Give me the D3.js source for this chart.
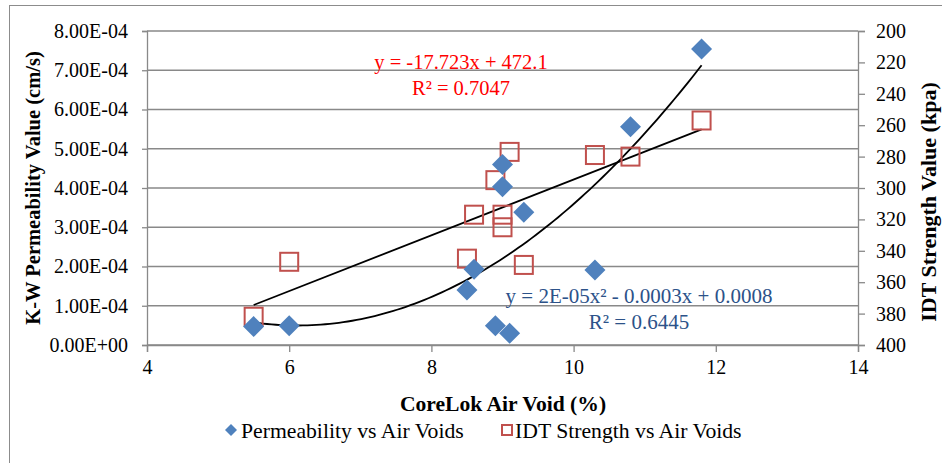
<!DOCTYPE html>
<html>
<head>
<meta charset="utf-8">
<script src="https://cdn.jsdelivr.net/npm/d3@7/dist/d3.min.js"></script>
<style>
  html, body { margin: 0; padding: 0; background: #fff; }
  svg { display: block; }
  svg text { font-family: "Liberation Serif", "Times New Roman", serif; }
</style>
</head>
<body>
<svg id="chart" width="942" height="463"></svg>
<script>
// ---- Data ----
const permAirVoid = [5.5, 6.0, 8.5, 8.6, 8.9, 9.1, 9.0, 9.0, 9.3, 10.3, 10.8, 11.8];
const permValue   = [4.7e-5, 4.9e-5, 1.40e-4, 1.93e-4, 4.9e-5, 3.0e-5, 4.60e-4, 4.03e-4, 3.38e-4, 1.91e-4, 5.56e-4, 7.54e-4];

const idtAirVoid  = [5.5, 6.0, 8.5, 8.6, 8.9, 9.0, 9.0, 9.1, 9.3, 10.3, 10.8, 11.8];
const idtValue    = [382, 347, 345, 317, 295, 317, 325, 277, 349, 279, 280, 257];

const xTicks      = [4, 6, 8, 10, 12, 14];
const yLeftTicks  = [0, 1e-4, 2e-4, 3e-4, 4e-4, 5e-4, 6e-4, 7e-4, 8e-4];
const yRightTicks = [200, 220, 240, 260, 280, 300, 320, 340, 360, 380, 400];

const seriesNames = ["Permeability vs Air Voids", "IDT Strength vs Air Voids"];
const idtEquation  = ["y = -17.723x + 472.1", "R\u00B2 = 0.7047"];
const permEquation = ["y = 2E-05x\u00B2 - 0.0003x + 0.0008", "R\u00B2 = 0.6445"];

// ---- Layout ----
const FONT = "'Liberation Serif', 'Times New Roman', serif";
const svg = d3.select("#chart").attr("font-family", FONT);
const L = 147, R = 858, T = 31, B = 345;
const x  = d3.scaleLinear().domain([4, 14]).range([L, R]);
const yL = d3.scaleLinear().domain([0, 8e-4]).range([B, T]);
const yR = d3.scaleLinear().domain([200, 400]).range([T, B]);

const gridColor = "#898989";
const blue = "#4F81BD", red = "#C0504D";

// outer chart border
svg.append("rect").attr("x", 9.5).attr("y", 5.5).attr("width", 960).attr("height", 480)
  .attr("fill", "none").attr("stroke", "#8c8c8c").attr("stroke-width", 1);

// horizontal gridlines
svg.append("g").selectAll("line").data(yLeftTicks).join("line")
  .attr("x1", L).attr("x2", R)
  .attr("y1", d => yL(d)).attr("y2", d => yL(d))
  .attr("stroke", gridColor).attr("stroke-width", 1.3);

// exponent format like Excel: 8.00E-04
function sci(v) {
  if (v === 0) return "0.00E+00";
  const e = Math.floor(Math.log10(Math.abs(v)) + 1e-9);
  const m = v / Math.pow(10, e);
  const sign = e < 0 ? "-" : "+";
  return m.toFixed(2) + "E" + sign + String(Math.abs(e)).padStart(2, "0");
}

// left axis
const gL = svg.append("g").attr("transform", `translate(${L},0)`)
  .call(d3.axisLeft(yL).tickValues(yLeftTicks).tickFormat(sci).tickSize(5).tickPadding(14));
// right axis
const gR = svg.append("g").attr("transform", `translate(${R},0)`)
  .call(d3.axisRight(yR).tickValues(yRightTicks).tickSize(7).tickPadding(11));
// bottom axis
const gB = svg.append("g").attr("transform", `translate(0,${B})`)
  .call(d3.axisBottom(x).tickValues(xTicks).tickFormat(d3.format("d")).tickSize(7).tickPadding(6));

[gL, gR, gB].forEach(g => {
  g.attr("font-family", FONT);
  g.select(".domain").attr("stroke", gridColor).attr("stroke-width", 1.3);
  g.selectAll(".tick line").attr("stroke", gridColor).attr("stroke-width", 1.3);
  g.selectAll(".tick text").attr("font-family", FONT).attr("font-size", 20).attr("fill", "#000");
});
gB.selectAll(".tick text").attr("dy", "0.78em");

// axis titles
svg.append("text").attr("x", 503).attr("y", 411).attr("text-anchor", "middle")
  .attr("font-size", 21.6).attr("font-weight", "bold").text("CoreLok Air Void (%)");
svg.append("text").attr("transform", "translate(40,188) rotate(-90)").attr("text-anchor", "middle")
  .attr("font-size", 20.5).attr("font-weight", "bold").text("K-W Permeability Value (cm/s)");
svg.append("text").attr("transform", "translate(936,202) rotate(-90)").attr("text-anchor", "middle")
  .attr("font-size", 22).attr("font-weight", "bold").text("IDT Strength Value (kpa)");

// ---- Trendlines (least squares from the data) ----
function linFit(xs, ys) {
  const n = xs.length, mx = d3.mean(xs), my = d3.mean(ys);
  let sxy = 0, sxx = 0;
  for (let i = 0; i < n; i++) { sxy += (xs[i]-mx)*(ys[i]-my); sxx += (xs[i]-mx)**2; }
  const b = sxy / sxx; return { b, a: my - b*mx };
}
function quadFit(xs, ys) {
  const S = k => d3.sum(xs, v => v**k);
  const Sy = k => d3.sum(xs, (v, i) => v**k * ys[i]);
  const A = [[S(0), S(1), S(2)], [S(1), S(2), S(3)], [S(2), S(3), S(4)]];
  const bv = [Sy(0), Sy(1), Sy(2)];
  for (let i = 0; i < 3; i++) {
    for (let j = i+1; j < 3; j++) {
      const f = A[j][i] / A[i][i];
      for (let k = i; k < 3; k++) A[j][k] -= f*A[i][k];
      bv[j] -= f*bv[i];
    }
  }
  const c = [0,0,0];
  for (let i = 2; i >= 0; i--) {
    let s = bv[i];
    for (let k = i+1; k < 3; k++) s -= A[i][k]*c[k];
    c[i] = s / A[i][i];
  }
  return c;
}
const lf = linFit(idtAirVoid, idtValue);
const qf = quadFit(permAirVoid, permValue);
const xMin = d3.min(permAirVoid), xMax = d3.max(permAirVoid);
const samples = d3.range(0, 101).map(i => xMin + (xMax - xMin) * i / 100);

svg.append("path")
  .attr("d", d3.line().x(d => x(d)).y(d => yL(qf[0] + qf[1]*d + qf[2]*d*d))(samples))
  .attr("fill", "none").attr("stroke", "#000").attr("stroke-width", 1.8);
svg.append("path")
  .attr("d", d3.line().x(d => x(d)).y(d => yR(lf.a + lf.b*d))([d3.min(idtAirVoid), d3.max(idtAirVoid)]))
  .attr("fill", "none").attr("stroke", "#000").attr("stroke-width", 1.8);

// ---- Markers ----
const diamond = s => `M0,${-s}L${s},0L0,${s}L${-s},0Z`;
svg.append("g").selectAll("rect").data(idtAirVoid.map((v, i) => [v, idtValue[i]])).join("rect")
  .attr("x", d => x(d[0]) - 9).attr("y", d => yR(d[1]) - 9)
  .attr("width", 18).attr("height", 18)
  .attr("fill", "none").attr("stroke", red).attr("stroke-width", 2);
svg.append("g").selectAll("path").data(permAirVoid.map((v, i) => [v, permValue[i]])).join("path")
  .attr("transform", d => `translate(${x(d[0])},${yL(d[1])})`)
  .attr("d", diamond(10.5)).attr("fill", blue);

// ---- Equation labels ----
const redEq = svg.append("text").attr("text-anchor", "middle").attr("font-size", 20.5).attr("fill", "#FF0000");
redEq.append("tspan").attr("x", 461).attr("y", 69).text(idtEquation[0]);
redEq.append("tspan").attr("x", 461).attr("y", 95).text(idtEquation[1]);
const blueEq = svg.append("text").attr("text-anchor", "middle").attr("font-size", 21).attr("fill", "#2C5289");
blueEq.append("tspan").attr("x", 639).attr("y", 303).text(permEquation[0]);
blueEq.append("tspan").attr("x", 639).attr("y", 329).text(permEquation[1]);

// ---- Legend ----
const lg = svg.append("g");
lg.append("path").attr("transform", "translate(231,430)").attr("d", diamond(6)).attr("fill", blue);
lg.append("text").attr("x", 241).attr("y", 438).attr("font-size", 21.7).text(seriesNames[0]);
lg.append("rect").attr("x", 502).attr("y", 425).attr("width", 10).attr("height", 10)
  .attr("fill", "none").attr("stroke", red).attr("stroke-width", 2);
lg.append("text").attr("x", 515).attr("y", 438).attr("font-size", 21.7).text(seriesNames[1]);
</script>
</body>
</html>
